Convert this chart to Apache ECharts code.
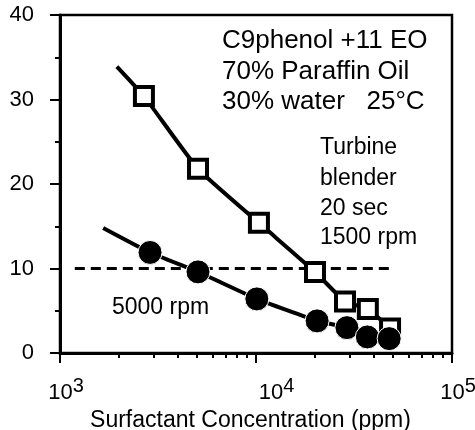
<!DOCTYPE html>
<html>
<head>
<meta charset="utf-8">
<script src="https://cdn.jsdelivr.net/npm/echarts@6/dist/echarts.min.js"></script>
<style>
  html, body { margin: 0; padding: 0; background: #fff; }
  #chart { width: 475px; height: 430px; }
</style>
</head>
<body>
<div id="chart"></div>
<script>
// 1500 rpm (open squares) and 5000 rpm (filled circles)
var squareX = [2680, 5060, 10350, 20000, 28450, 37200, 48300];
var squareY = [30.4, 21.8, 15.4, 9.6, 6.1, 5.2, 2.9];
var circleX = [2880, 5060, 10100, 20500, 29100, 37000, 47800];
var circleY = [11.9, 9.6, 6.4, 3.8, 3.0, 1.9, 1.7];

// trend curves start a little left of the first point
var squareFitX = [1950, 2680, 5060, 10350, 20000, 28450, 37200, 48300];
var squareFitY = [33.9, 30.4, 21.8, 15.4, 9.6, 6.1, 5.2, 2.9];
var circleFitX = [1660, 2880, 5060, 10100, 20500, 29100, 37000, 47800];
var circleFitY = [14.8, 11.9, 9.6, 6.4, 3.8, 3.0, 1.9, 1.7];

// dashed reference at 10
var refX = [1190, 48000];
var refY = [10, 10];

var majorX = [1000, 10000, 100000];
var minorX = [2000, 3000, 4000, 5000, 6000, 7000, 8000, 9000,
              20000, 30000, 40000, 50000, 60000, 70000, 80000, 90000];

function pairs(xs, ys) {
  return xs.map(function (x, i) { return [x, ys[i]]; });
}

var chart = echarts.init(document.getElementById('chart'));

var font = '"Liberation Sans", Arial, sans-serif';

var option = {
  animation: false,
  textStyle: { fontFamily: font, color: '#000' },
  grid: {
    left: 60, right: 23, top: 15, bottom: 77,
    outerBoundsMode: 'none',
    containLabel: false,
    show: true, borderColor: '#000', borderWidth: 2.5
  },
  xAxis: [{
    type: 'log',
    logBase: 10,
    min: 1000,
    max: 100000,
    position: 'bottom',
    name: 'Surfactant Concentration (ppm)',
    nameLocation: 'middle',
    nameGap: 53,
    nameTextStyle: { fontSize: 23, color: '#000', fontFamily: font, padding: [0, 11, 0, 0] },
    axisLine: { lineStyle: { color: '#000', width: 3 } },
    axisTick: { customValues: majorX, length: 10, lineStyle: { color: '#000', width: 2 } },
    axisLabel: {
      customValues: majorX,
      margin: 23,
      color: '#000',
      formatter: function (v) {
        var e = Math.round(Math.log(v) / Math.LN10);
        if (e === 4) return '{c|10}{s|' + e + '}';
        return '{b|10}{s|' + e + '}';
      },
      rich: {
        b: { fontSize: 22, fontFamily: font, color: '#000', padding: [0, 0, 0, 12] },
        c: { fontSize: 22, fontFamily: font, color: '#000', padding: [0, 0, 0, 41] },
        s: { fontSize: 20, fontFamily: font, color: '#000', padding: [0, 0, 14, 0] }
      }
    },
    splitLine: { show: false }
  }, {
    type: 'log',
    logBase: 10,
    min: 1000,
    max: 100000,
    position: 'bottom',
    axisLine: { show: false },
    axisTick: { customValues: minorX, length: 5, lineStyle: { color: '#000', width: 2 } },
    axisLabel: { show: false },
    splitLine: { show: false }
  }],
  yAxis: {
    type: 'value',
    min: 0,
    max: 40,
    interval: 10,
    axisLine: { show: true, lineStyle: { color: '#000', width: 3 } },
    axisTick: { show: true, length: 10, lineStyle: { color: '#000', width: 2 } },
    minorTick: { show: true, splitNumber: 2, length: 5, lineStyle: { color: '#000', width: 2 } },
    axisLabel: { fontSize: 22, color: '#000', margin: 26 },
    splitLine: { show: false }
  },
  graphic: [
    { type: 'text', left: 222, top: 28, style: { text: 'C9phenol +11 EO', font: '26px ' + font, fill: '#000' } },
    { type: 'text', left: 222, top: 59, style: { text: '70% Paraffin Oil', font: '26px ' + font, fill: '#000' } },
    { type: 'text', left: 222, top: 89, style: { text: '30% water   25°C', font: '26px ' + font, fill: '#000' } },
    { type: 'text', left: 320, top: 136, style: { text: 'Turbine', font: '23px ' + font, fill: '#000' } },
    { type: 'text', left: 320, top: 167, style: { text: 'blender', font: '23px ' + font, fill: '#000' } },
    { type: 'text', left: 320, top: 197, style: { text: '20 sec', font: '23px ' + font, fill: '#000' } },
    { type: 'text', left: 320, top: 226, style: { text: '1500 rpm', font: '23px ' + font, fill: '#000' } },
    { type: 'text', left: 112, top: 296, style: { text: '5000 rpm', font: '23px ' + font, fill: '#000' } }
  ],
  series: [
    {
      name: 'ref',
      type: 'line',
      data: pairs(refX, refY),
      symbol: 'none',
      lineStyle: { color: '#000', width: 3, type: [10, 6] },
      z: 1
    },
    {
      name: '1500 rpm fit',
      type: 'line',
      data: pairs(squareFitX, squareFitY),
      symbol: 'none',
      smooth: 0.15,
      lineStyle: { color: '#000', width: 4 },
      z: 2
    },
    {
      name: '5000 rpm fit',
      type: 'line',
      data: pairs(circleFitX, circleFitY),
      symbol: 'none',
      smooth: 0.15,
      lineStyle: { color: '#000', width: 4 },
      z: 2
    },
    {
      name: '1500 rpm',
      type: 'scatter',
      data: pairs(squareX, squareY),
      symbol: 'rect',
      symbolSize: 18,
      itemStyle: { color: '#fff', borderColor: '#000', borderWidth: 4, opacity: 1 },
      z: 3
    },
    {
      name: '5000 rpm',
      type: 'scatter',
      data: pairs(circleX, circleY),
      symbol: 'circle',
      symbolSize: 24,
      itemStyle: { color: '#000', borderColor: '#fff', borderWidth: 1, opacity: 1 },
      z: 4
    }
  ]
};

chart.setOption(option);
</script>
</body>
</html>
